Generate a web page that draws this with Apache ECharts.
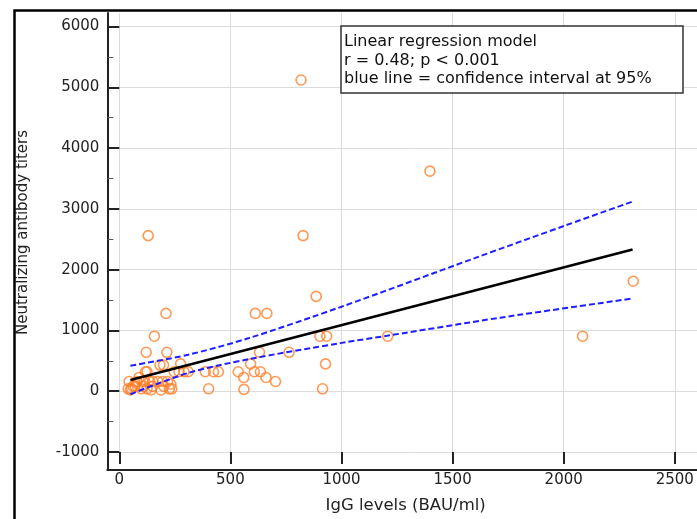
<!DOCTYPE html>
<html>
<head>
<meta charset="utf-8">
<script src="https://cdn.jsdelivr.net/npm/echarts@6/dist/echarts.min.js"></script>
<style>html,body{margin:0;padding:0;background:#fff}#c{width:697px;height:519px}</style>
</head>
<body>
<div id="c"></div>
<script>
// IgG levels (BAU/ml) and neutralizing antibody titers
const igg = [44, 40, 55, 50, 62, 70, 89, 80, 99, 106, 110, 118, 125, 121, 114, 125, 136, 143, 150, 151,
  158, 173, 183, 188, 195, 199, 200, 210, 214, 217, 225, 232, 236, 247, 269, 276, 291, 310, 130,
  387, 402, 424, 446, 535, 560, 561, 591, 608, 635, 612, 664, 631, 660, 703, 764,
  818, 827, 886, 903, 933, 928, 915, 1208, 1398, 2085, 2313];
const titers = [160, 40, 40, 20, 80, 80, 226, 160, 40, 160, 80, 320, 320, 640, 160, 40, 160, 20, 80, 160,
  905, 160, 430, 20, 160, 430, 80, 1280, 640, 160, 40, 115, 40, 320, 320, 450, 320, 320, 2560,
  320, 40, 320, 320, 320, 226, 30, 450, 320, 320, 1280, 1280, 640, 226, 160, 640,
  5120, 2560, 1560, 905, 905, 450, 40, 905, 3620, 905, 1810];

// regression line and 95% confidence band
const regX = [50, 2310];
const regY = [185, 2330];
const upperX = [50, 310, 580, 1000, 1600, 2010, 2310];
const upperY = [420, 600, 870, 1390, 2190, 2730, 3120];
const lowerX = [50, 310, 580, 1000, 1210, 1715, 2310];
const lowerY = [-50, 300, 525, 795, 915, 1210, 1525];

const yTicks = [-1000, 0, 1000, 2000, 3000, 4000, 5000, 6000];
const xTicks = [0, 500, 1000, 1500, 2000, 2500];

const legendLines = ['Linear regression model', 'r = 0.48; p < 0.001', 'blue line = confidence interval at 95%'];

const FONT = 'DejaVu Sans';
const zip = (a, b) => a.map((v, i) => [v, b[i]]);
const plain = v => String(v);

const chart = echarts.init(document.getElementById('c'), null, {renderer: 'canvas'});
chart.setOption({
  animation: false,
  backgroundColor: '#fff',
  grid: [
    {left: 119.3, top: 13, width: 587.1, height: 445},
    {left: 107.3, top: 13, width: 600, height: 457}
  ],
  xAxis: [
    {
      type: 'value', gridIndex: 0, min: xTicks[0], max: 2600, interval: 500, offset: 12,
      axisLine: {show: false, onZero: false},
      axisTick: {show: true, inside: true, length: 12, customValues: xTicks, lineStyle: {color: '#222', width: 2}},
      axisLabel: {customValues: xTicks, margin: 9, color: '#222', fontFamily: FONT, fontSize: 15, formatter: plain},
      splitLine: {show: true, lineStyle: {color: '#dcdcdc', width: 1}},
      name: 'IgG levels (BAU/ml)', nameLocation: 'middle', nameGap: 33,
      nameTextStyle: {color: '#222', fontFamily: FONT, fontSize: 16.5, padding: [0, 5, 0, 0]}
    },
    {
      type: 'value', gridIndex: 1, min: 0, max: 1,
      axisLine: {show: true, onZero: false, lineStyle: {color: '#222', width: 2}},
      axisTick: {show: false}, axisLabel: {show: false}, splitLine: {show: false}
    }
  ],
  yAxis: [
    {
      type: 'value', gridIndex: 0, min: yTicks[0], max: 6222, interval: 1000, offset: 12,
      axisLine: {show: false, onZero: false},
      axisTick: {show: true, inside: true, length: 12, customValues: yTicks, lineStyle: {color: '#222', width: 2}},
      minorTick: {show: true, splitNumber: 2, length: 6, lineStyle: {color: '#555', width: 1}},
      axisLabel: {customValues: yTicks, margin: 8, color: '#222', fontFamily: FONT, fontSize: 15, formatter: plain},
      splitLine: {show: true, lineStyle: {color: '#dcdcdc', width: 1}},
      name: 'Neutralizing antibody titers', nameLocation: 'middle', nameGap: 77, nameRotate: 90,
      nameTextStyle: {color: '#222', fontFamily: FONT, fontSize: 15}
    },
    {
      type: 'value', gridIndex: 1, min: 0, max: 1,
      axisLine: {show: true, onZero: false, lineStyle: {color: '#222', width: 2}},
      axisTick: {show: false}, axisLabel: {show: false}, splitLine: {show: false}
    }
  ],
  series: [
    {
      type: 'scatter', xAxisIndex: 0, yAxisIndex: 0,
      data: zip(igg, titers), symbol: 'circle', symbolSize: 10,
      itemStyle: {color: 'rgba(255,255,255,0)', borderColor: '#ff7f2a', borderWidth: 1.6}, z: 3
    },
    {
      type: 'line', xAxisIndex: 0, yAxisIndex: 0, data: zip(regX, regY), showSymbol: false,
      lineStyle: {color: '#000', width: 2.5}, z: 4
    },
    {
      type: 'line', xAxisIndex: 0, yAxisIndex: 0, data: zip(upperX, upperY), showSymbol: false, smooth: 0.3,
      lineStyle: {color: '#1e1eff', width: 2, type: [6, 3]}, z: 4
    },
    {
      type: 'line', xAxisIndex: 0, yAxisIndex: 0, data: zip(lowerX, lowerY), showSymbol: false, smooth: 0.3,
      lineStyle: {color: '#1e1eff', width: 2, type: [6, 3]}, z: 4
    }
  ],
  graphic: [
    {type: 'rect', left: 12, top: 8, shape: {width: 720, height: 540}, style: {fill: 'none', stroke: '#000', lineWidth: 2.5}, silent: true},
    {type: 'rect', shape: {x: 341, y: 26, width: 342, height: 67}, style: {fill: '#fff', stroke: '#333', lineWidth: 1.5}, z: 10},
    {type: 'text', x: 344, y: 42, style: {text: legendLines[0], font: '16px "DejaVu Sans"', fill: '#111', verticalAlign: 'middle'}, z: 11},
    {type: 'text', x: 344, y: 60.5, style: {text: legendLines[1], font: '16px "DejaVu Sans"', fill: '#111', verticalAlign: 'middle'}, z: 11},
    {type: 'text', x: 344, y: 79, style: {text: legendLines[2], font: '16px "DejaVu Sans"', fill: '#111', verticalAlign: 'middle'}, z: 11}
  ]
});
</script>
</body>
</html>
